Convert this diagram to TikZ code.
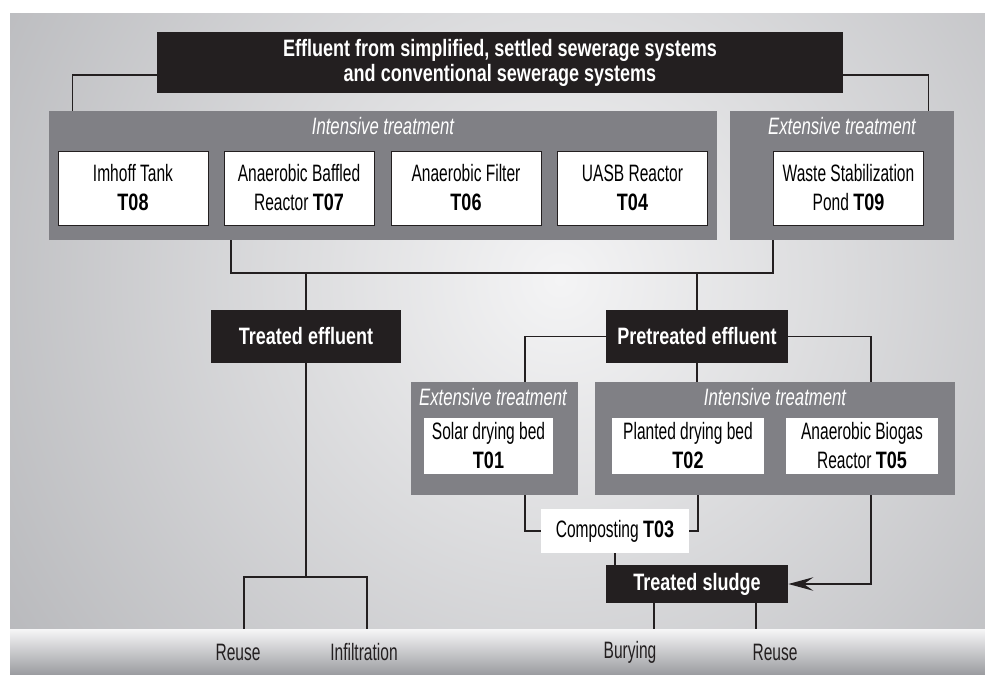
\documentclass[tikz,border=0pt]{standalone}
\usepackage{fontspec}
\setmainfont{Liberation Sans}[FakeStretch=0.655,BoldFeatures={FakeStretch=0.76},ItalicFeatures={FakeStretch=0.705}]
\usetikzlibrary{arrows.meta,positioning,calc}
\definecolor{bgdark}{HTML}{A3A4A8}
\definecolor{bglight}{HTML}{F4F4F5}
\definecolor{panelgray}{HTML}{808085}
\definecolor{boxblack}{HTML}{231F20}
\definecolor{bandtop}{HTML}{F6F6F7}
\definecolor{bandbottom}{HTML}{9C9DA1}
\newcommand{\diagfont}{\fontsize{13.5}{16.5}\selectfont}
\tikzstyle{head} = [fill=boxblack, text=white, font=\fontsize{13.5}{14.2}\selectfont\bfseries, align=center, inner sep=0pt]
\tikzstyle{group} = [fill=panelgray, inner sep=0pt]
\tikzstyle{grouptitle} = [text=white, font=\diagfont\itshape, inner sep=0pt]
\tikzstyle{tech} = [fill=white, draw=boxblack, line width=0.5pt, align=center, font=\diagfont, minimum width=3cm, minimum height=1.48cm, inner sep=0pt]
\tikzstyle{sludgetech} = [fill=white, align=center, font=\diagfont, minimum height=1.12cm, inner sep=0pt]
\tikzstyle{band} = [top color=bandtop, bottom color=bandbottom, minimum width=19.5cm, minimum height=0.9cm, inner sep=0pt]
\tikzstyle{use} = [font=\diagfont, text=boxblack, inner sep=0pt]
\tikzstyle{link} = [draw=boxblack, line width=0.8pt]

\begin{document}
\begin{tikzpicture}[x=0.02cm, y=-0.02cm, >={Stealth[length=5mm,width=2.7mm,inset=1.9mm]}]
    \useasboundingbox (0,0) rectangle (985,674);
    % background
    \fill[bgdark] (10,13) rectangle (985,674);
    \begin{scope}
        \clip (10,13) rectangle (985,629);
        \shade[inner color=bglight, outer color=bgdark] (560,280) circle (900);
    \end{scope}
    \node[band] (band) at (497.5,651.5) {};

    % source
    \node[head, minimum width=13.72cm, minimum height=1.22cm] (source) at (500,62.5) {Effluent from simplified, settled sewerage systems\\and conventional sewerage systems};

    % first treatment step
    \node[group, minimum width=13.36cm, minimum height=2.58cm] (intens) at (383,175.5) {};
    \node[grouptitle] (intenstitle) at (383,126) {Intensive treatment};
    \node[group, minimum width=4.48cm, minimum height=2.58cm] (extens) at (842,175.5) {};
    \node[grouptitle] (extenstitle) at (842,126) {Extensive treatment};

    \node[tech] (imhoff) at (133,188) {Imhoff Tank\\\textbf{T08}};
    \node[tech] (abr) at (299,188) {Anaerobic Baffled\\Reactor \textbf{T07}};
    \node[tech] (af) at (466,188) {Anaerobic Filter\\\textbf{T06}};
    \node[tech] (uasb) at (632.5,188) {UASB Reactor\\\textbf{T04}};
    \node[tech] (wsp) at (848.5,188) {Waste Stabilization\\Pond \textbf{T09}};

    % products
    \node[head, minimum width=3.8cm, minimum height=1.06cm] (treated) at (306,336.5) {Treated effluent};
    \node[head, minimum width=3.64cm, minimum height=1.06cm] (pretreated) at (697,336.5) {Pretreated effluent};

    % sludge treatment
    \node[group, minimum width=3.34cm, minimum height=2.26cm] (extens2) at (494.5,438.5) {};
    \node[grouptitle] (extens2title) at (493,397) {Extensive treatment};
    \node[group, minimum width=7.2cm, minimum height=2.26cm] (intens2) at (775,438.5) {};
    \node[grouptitle] (intens2title) at (775,397) {Intensive treatment};

    \node[sludgetech, minimum width=2.58cm] (solar) at (488.5,446) {Solar drying bed\\\textbf{T01}};
    \node[sludgetech, minimum width=3.04cm] (planted) at (688,446) {Planted drying bed\\\textbf{T02}};
    \node[sludgetech, minimum width=3.04cm] (biogas) at (862,446) {Anaerobic Biogas\\Reactor \textbf{T05}};

    \node[sludgetech, minimum width=2.96cm, minimum height=0.88cm] (compost) at (615,531) {Composting \textbf{T03}};
    \node[head, minimum width=3.64cm, minimum height=0.76cm] (sludge) at (697,584) {Treated sludge};

    % end uses
    \node[use] (reuseA) at (238,652) {Reuse};
    \node[use] (infil) at (364,652) {Infiltration};
    \node[use] (bury) at (630,652) {Burying};
    \node[use] (reuseB) at (775,652) {Reuse};

    % connectors
    \coordinate (busL) at (231,273);
    \coordinate (busR) at (773,273);
    \coordinate (splitL) at (244,577);
    \coordinate (splitR) at (367,577);

    \draw[link] ([yshift=-0.25cm]source.west) -| ([xshift=0.48cm]intens.north west);
    \draw[link] ([yshift=-0.25cm]source.east) -| ([xshift=-0.52cm]extens.north east);
    \draw[link] (busL |- intens.south) -- (busL) -- (busR) -- (busR |- extens.south);
    \draw[link] (treated.north) -- (treated.north |- busL);
    \draw[link] (pretreated.north) -- (pretreated.north |- busL);

    \draw[link] (pretreated.west) -| ([xshift=0.61cm]extens2.north);
    \draw[link] (pretreated.east) -| ([xshift=1.92cm]intens2.north);
    \draw[link] (pretreated.south) -- (pretreated.south |- intens2.north);

    \draw[link] (compost.west) -| ([xshift=0.61cm]extens2.south);
    \draw[link] (compost.east) -| ([xshift=-1.54cm]intens2.south);
    \draw[link, ->] ([xshift=1.92cm]intens2.south) |- (sludge.east);
    \draw[link] (compost.south) -- (compost.south |- sludge.north);

    \draw[link] ([xshift=-0.86cm]sludge.south) -- ([xshift=-0.86cm]sludge.south |- band.north);
    \draw[link] ([xshift=1.18cm]sludge.south) -- ([xshift=1.18cm]sludge.south |- band.north);

    \draw[link] (treated.south) -- (treated.south |- splitL);
    \draw[link] (splitL |- band.north) -- (splitL) -- (splitR) -- (splitR |- band.north);
\end{tikzpicture}
\end{document}
